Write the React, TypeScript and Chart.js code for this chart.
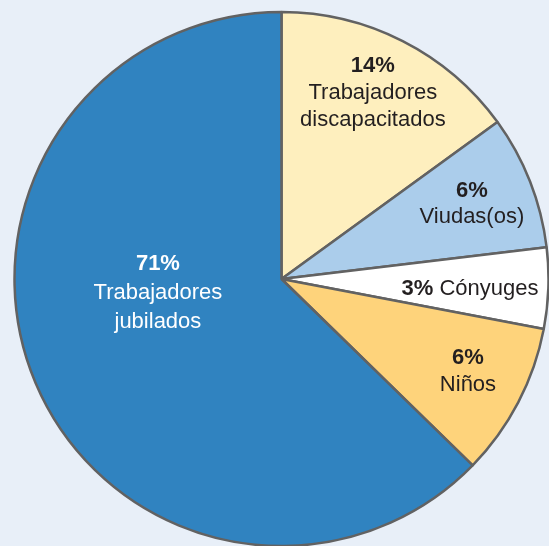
import React, { useEffect, useRef } from "react";
import { Chart, registerables } from "chart.js";

Chart.register(...registerables);

// Categories, clockwise from 12 o'clock
const categories = [
  "Trabajadores discapacitados",
  "Viudas(os)",
  "Cónyuges",
  "Niños",
  "Trabajadores jubilados",
];
const nameLines = [
  ["Trabajadores", "discapacitados"],
  ["Viudas(os)"],
  ["Cónyuges"],
  ["Niños"],
  ["Trabajadores", "jubilados"],
];
// Percent text printed on the chart
const percentLabels = ["14%", "6%", "3%", "6%", "71%"];
// Slice sizes as drawn in the picture (angles measured, in % of circle)
const sliceValues = [15.0, 8.1, 4.9, 9.3, 62.7];

// Styles
const sliceColors = ["#feefbe", "#abcdeb", "#ffffff", "#fed37b", "#3083c0"];
const textColors = ["#231f20", "#231f20", "#231f20", "#231f20", "#ffffff"];
const labelRadius = [0.775, 0.767, 0.707, 0.78, 0.466];
const labelShiftDeg = [-0.8, -0.2, 0.9, -1.1, 16.2];
const labelInline = [false, false, true, false, false];
const lineHeights = [27, 26, 27, 27, 29];

const FONT = '"Liberation Sans", Arial, Helvetica, sans-serif';
const FONT_SIZE = 22;

const labelPlugin = {
  id: "sliceLabels",
  afterDatasetsDraw(chart: any) {
    const ctx = chart.ctx as CanvasRenderingContext2D;
    const meta = chart.getDatasetMeta(0);
    ctx.save();
    ctx.textBaseline = "middle";
    meta.data.forEach((arc: any, i: number) => {
      const p = arc.getProps(["x", "y", "startAngle", "endAngle", "outerRadius"], true);
      const a = (p.startAngle + p.endAngle) / 2 + (labelShiftDeg[i] * Math.PI) / 180;
      const r = p.outerRadius * labelRadius[i];
      const cx = p.x + r * Math.cos(a);
      const cy = p.y + r * Math.sin(a);
      ctx.fillStyle = textColors[i];
      const bold = `bold ${FONT_SIZE}px ${FONT}`;
      const reg = `${FONT_SIZE}px ${FONT}`;
      if (labelInline[i]) {
        ctx.font = bold;
        const w1 = ctx.measureText(percentLabels[i]).width;
        ctx.font = reg;
        const txt = " " + nameLines[i].join(" ");
        const w2 = ctx.measureText(txt).width;
        const x0 = cx - (w1 + w2) / 2;
        ctx.textAlign = "left";
        ctx.font = bold;
        ctx.fillText(percentLabels[i], x0, cy);
        ctx.font = reg;
        ctx.fillText(txt, x0 + w1, cy);
      } else {
        const lines = [percentLabels[i], ...nameLines[i]];
        const lh = lineHeights[i];
        const y0 = cy - ((lines.length - 1) * lh) / 2;
        ctx.textAlign = "center";
        lines.forEach((t, k) => {
          ctx.font = k === 0 ? bold : reg;
          ctx.fillText(t, cx, y0 + k * lh);
        });
      }
    });
    ctx.restore();
  },
};

export default function App() {
  const canvasRef = useRef<HTMLCanvasElement | null>(null);

  useEffect(() => {
    document.body.style.margin = "0";
    document.body.style.background = "#e8eff8";
    const canvas = canvasRef.current;
    if (!canvas) return;
    const chart = new Chart(canvas, {
      type: "pie",
      data: {
        labels: categories,
        datasets: [
          {
            data: sliceValues,
            backgroundColor: sliceColors,
            borderColor: "#626262",
            borderWidth: 2.5,
            hoverOffset: 0,
          },
        ],
      },
      options: {
        animation: false,
        responsive: false,
        devicePixelRatio: 1,
        radius: 267,
        layout: { padding: { left: 14, right: 0, top: 12, bottom: 0 } },
        events: [],
        plugins: {
          legend: { display: false },
          tooltip: { enabled: false },
          title: { display: false },
        },
      } as any,
      plugins: [labelPlugin],
    });
    return () => chart.destroy();
  }, []);

  return (
    <div style={{ width: 549, height: 546, background: "#e8eff8", overflow: "hidden" }}>
      <canvas ref={canvasRef} width={549} height={546} style={{ display: "block" }} />
    </div>
  );
}
